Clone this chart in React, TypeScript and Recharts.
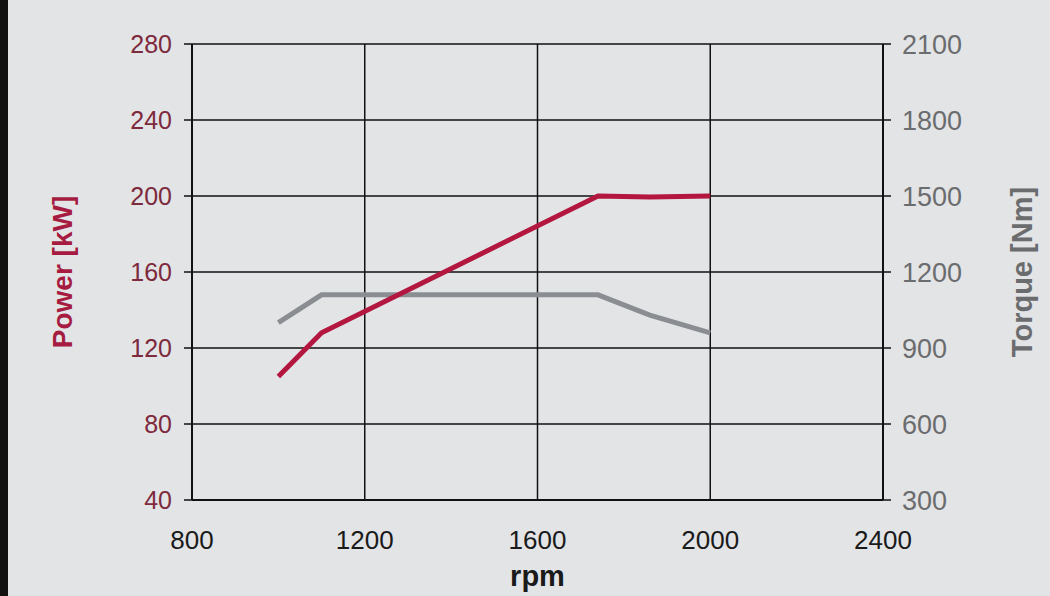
import React from "react";
import { LineChart, Line, XAxis, YAxis, CartesianGrid } from "recharts";

const rpm = [1000, 1100, 1740, 1860, 2000];
const powerKW = [105, 128, 200, 199.5, 200];
const torqueNm = [1000, 1110, 1110, 1030, 960];

const xTicks = [800, 1200, 1600, 2000, 2400];
const powerTicks = [40, 80, 120, 160, 200, 240, 280];
const torqueTicks = [300, 600, 900, 1200, 1500, 1800, 2100];

const data = rpm.map((r, i) => ({ rpm: r, power: powerKW[i], torque: torqueNm[i] }));

const FONT = "'Liberation Sans', Arial, sans-serif";

export default function App() {
  return (
    <div
      style={{
        position: "fixed",
        left: 0,
        top: 0,
        width: 1050,
        height: 596,
        background: "#e3e4e6",
        fontFamily: FONT,
        overflow: "hidden",
      }}
    >
      <div style={{ position: "absolute", left: 0, top: 0, width: 8, height: 596, background: "#111" }} />
      <LineChart
        width={1050}
        height={596}
        data={data}
        margin={{ top: 44, right: 0, bottom: 0, left: 0 }}
        style={{ position: "absolute", left: 0, top: 0 }}
      >
        <CartesianGrid yAxisId="p" stroke="#111" strokeWidth={1.5} />
        <XAxis
          dataKey="rpm"
          type="number"
          domain={[800, 2400]}
          ticks={xTicks}
          height={96}
          axisLine={{ stroke: "#111", strokeWidth: 2 }}
          tickLine={false}
          tickSize={8}
          tickMargin={23}
          tick={{ fill: "#1a1a1a", fontSize: 26, fontFamily: FONT }}
          label={{ value: "rpm", position: "insideBottom", offset: 10, fill: "#1a1a1a", fontSize: 29, fontWeight: "bold", fontFamily: FONT }}
        />
        <YAxis
          yAxisId="p"
          orientation="left"
          domain={[40, 280]}
          ticks={powerTicks}
          width={192}
          axisLine={{ stroke: "#111", strokeWidth: 2 }}
          tickLine={{ stroke: "#111", strokeWidth: 1.5 }}
          tickSize={8}
          tickMargin={12}
          tick={{ fill: "#7d2a3d", fontSize: 25, fontFamily: FONT }}
          label={{ value: "Power [kW]", angle: -90, position: "insideLeft", offset: 62, fill: "#a51c40", fontSize: 28, fontWeight: "bold", fontFamily: FONT, style: { textAnchor: "middle" } }}
        />
        <YAxis
          yAxisId="t"
          orientation="right"
          domain={[300, 2100]}
          ticks={torqueTicks}
          width={167}
          axisLine={{ stroke: "#111", strokeWidth: 2 }}
          tickLine={{ stroke: "#111", strokeWidth: 1.5 }}
          tickSize={8}
          tickMargin={11}
          tick={{ fill: "#6b6c6e", fontSize: 27, fontFamily: FONT }}
          label={{ value: "Torque [Nm]", angle: -90, position: "insideRight", offset: 28, fill: "#6b6c6e", fontSize: 29, fontWeight: "bold", fontFamily: FONT, style: { textAnchor: "middle" } }}
        />
        <Line
          yAxisId="t"
          dataKey="torque"
          type="linear"
          stroke="#8a8d92"
          strokeWidth={5}
          dot={false}
          isAnimationActive={false}
        />
        <Line
          yAxisId="p"
          dataKey="power"
          type="linear"
          stroke="#b3173f"
          strokeWidth={5}
          dot={false}
          isAnimationActive={false}
        />
      </LineChart>
    </div>
  );
}
